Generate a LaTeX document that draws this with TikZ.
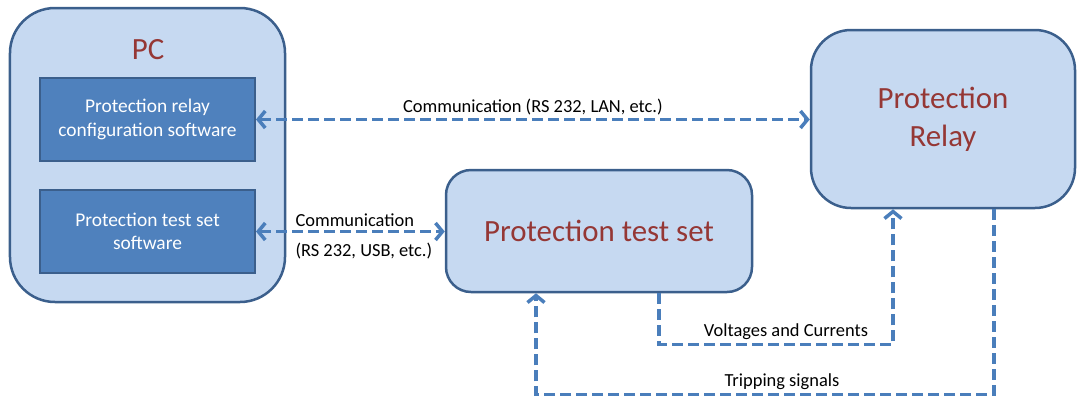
\documentclass[tikz,border=0pt]{standalone}
\usepackage{fontspec}
\setmainfont{Carlito}
\usetikzlibrary{arrows.meta,positioning}
\definecolor{boxfill}{HTML}{C6D9F1}
\definecolor{boxline}{HTML}{3B5F8C}
\definecolor{swfill}{HTML}{4F81BD}
\definecolor{linkblue}{HTML}{4A7EBB}
\definecolor{titlered}{HTML}{953735}

\begin{document}
\begin{tikzpicture}[
    x=1bp, y=-1bp,
    outer/.style={draw=boxline, fill=boxfill, line width=2.5bp, inner sep=0pt, align=center, text=titlered, font=\fontsize{31}{36}\selectfont},
    swbox/.style={draw=boxline, fill=swfill, line width=2bp, minimum width=215bp, minimum height=83bp, align=center, text=white, font=\fontsize{19.5}{23.5}\selectfont},
    link/.style={draw=linkblue, line width=3.5bp, dash pattern=on 11bp off 5bp},
    lbl/.style={font=\fontsize{18.5}{22}\selectfont, inner sep=3bp},
    >={Straight Barb[length=7bp,width=17bp]}
]
\useasboundingbox (0,0) rectangle (1078,398);

% PC with its two programs
\node[outer, minimum width=275bp, minimum height=294bp, rounded corners=45bp] (pc) at (147.5,155) {};
\node[text=titlered, font=\fontsize{31}{36}\selectfont] (pctitle) at (148,50) {PC};
\node[swbox] (relaysw) at (147.5,119.5) {Protection relay\\configuration software};
\node[swbox] (testsw) at (147.5,231.5) {Protection test set\\software};

% devices
\node[outer, minimum width=264bp, minimum height=178bp, rounded corners=40bp] (relay) at (943,119) {Protection\\[2bp]Relay};
\node[outer, minimum width=306bp, minimum height=122bp, rounded corners=25bp] (testset) at (599,231) {Protection test set};

% links
\draw[link,<->] (relaysw.east) -- node[lbl, above]{Communication (RS 232, LAN, etc.)} (relaysw.east -| relay.west);
\draw[link,<->] (testsw.east) -- node[lbl, pos=0.2, above right, inner xsep=0pt]{Communication}
    node[lbl, pos=0.2, below right, inner xsep=0pt, yshift=-7bp]{(RS 232, USB, etc.)} (testsw.east -| testset.west);
\draw[link,->] ([xshift=60bp]testset.south) -- ++(0,51) -| ([xshift=-50bp]relay.south)
    node[lbl, pos=0.25, above, xshift=10bp]{Voltages and Currents};
\draw[link,->] ([xshift=51bp]relay.south) -- ++(0,185) -| ([xshift=-63bp]testset.south)
    node[lbl, pos=0.25, above, xshift=17bp]{Tripping signals};
\end{tikzpicture}
\end{document}
